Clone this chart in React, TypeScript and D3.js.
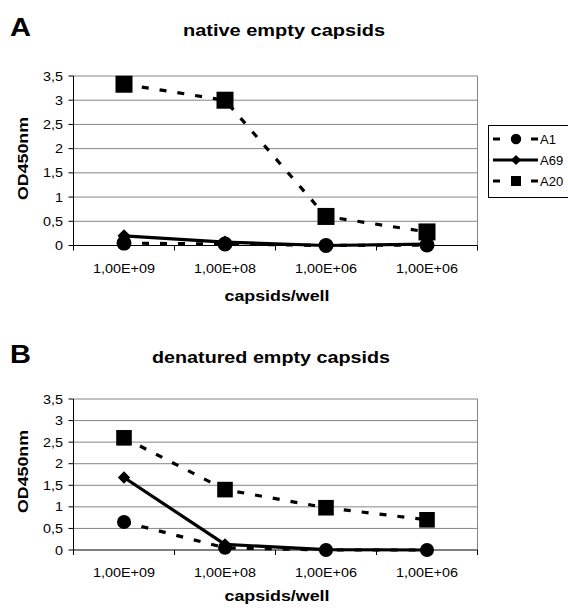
import React from "react";
import * as d3 from "d3";

const categories = ["1,00E+09", "1,00E+08", "1,00E+06", "1,00E+06"];
const yTicks = [0, 0.5, 1, 1.5, 2, 2.5, 3, 3.5];
const yTickLabels = ["0", "0,5", "1", "1,5", "2", "2,5", "3", "3,5"];
const seriesNames = ["A1", "A69", "A20"];

const nativeA1 = [0.05, 0.03, 0.0, 0.01];
const nativeA69 = [0.2, 0.07, 0.0, 0.03];
const nativeA20 = [3.33, 3.0, 0.6, 0.28];

const denatA1 = [0.65, 0.05, 0.0, 0.0];
const denatA69 = [1.68, 0.13, 0.01, 0.0];
const denatA20 = [2.6, 1.4, 0.98, 0.7];

const FONT = "'Liberation Sans', Arial, sans-serif";

type Panel = {
  letter: string;
  title: string;
  titleX: number;
  titleW: number;
  headY: number;
  top: number;
  bottom: number;
  tickDy: number;
  axisTitleDy: number;
  yTitleY: number;
  series: number[][];
  legend: boolean;
  sq: number;
  cr: number;
  dm: number;
};

const styles = [
  { dash: "7,11", marker: "circle" },
  { dash: "none", marker: "diamond" },
  { dash: "7,11", marker: "square" },
];

function Marker({ type, x, y, sq, cr, dm }: { type: string; x: number; y: number; sq: number; cr: number; dm: number }) {
  if (type === "circle") return <circle cx={x} cy={y} r={cr} fill="#000" />;
  if (type === "square") return <rect x={x - sq} y={y - sq} width={2 * sq} height={2 * sq} fill="#000" />;
  return <path d={`M${x},${y - dm}L${x + dm},${y}L${x},${y + dm}L${x - dm},${y}Z`} fill="#000" />;
}

function T(props: any) {
  const { w, children, ...rest } = props;
  return (
    <text fontFamily={FONT} textLength={w} lengthAdjust="spacingAndGlyphs" {...rest}>
      {children}
    </text>
  );
}

function ChartPanel({ p }: { p: Panel }) {
  const left = 73.5;
  const right = 477.5;
  const x = d3.scaleBand<number>().domain(d3.range(categories.length)).range([left, right]);
  const y = d3.scaleLinear().domain([0, 3.5]).range([p.bottom, p.top]);
  const cx = (i: number) => (x(i) as number) + x.bandwidth() / 2;
  const line = d3
    .line<number>()
    .x((_, i) => cx(i))
    .y((v) => y(v));
  return (
    <g>
      <T x={10} y={p.headY} fontWeight="bold" fontSize={26} w={21}>
        {p.letter}
      </T>
      <T x={p.titleX} y={p.headY} textAnchor="middle" fontWeight="bold" fontSize={17} w={p.titleW}>
        {p.title}
      </T>
      {yTicks.slice(1).map((t) => (
        <line key={t} x1={left} x2={right} y1={y(t)} y2={y(t)} stroke="#858585" strokeWidth={1} />
      ))}
      <line x1={right} x2={right} y1={p.top} y2={p.bottom} stroke="#858585" strokeWidth={1} />
      <line x1={left} x2={left} y1={p.top} y2={p.bottom} stroke="#000" strokeWidth={1} />
      <line x1={left} x2={right} y1={p.bottom} y2={p.bottom} stroke="#000" strokeWidth={1} />
      {yTicks.map((t, i) => (
        <g key={t}>
          <line x1={left - 5} x2={left} y1={y(t)} y2={y(t)} stroke="#000" />
          <T
            x={63}
            y={y(t) + 4.5}
            textAnchor="end"
            fontSize={12.5}
            w={yTickLabels[i].length === 1 ? 8 : 20}
          >
            {yTickLabels[i]}
          </T>
        </g>
      ))}
      {d3.range(categories.length + 1).map((i) => {
        const xx = i < categories.length ? (x(i) as number) : right;
        return <line key={i} x1={xx} x2={xx} y1={p.bottom} y2={p.bottom + 5} stroke="#000" />;
      })}
      {categories.map((c, i) => (
        <T key={i} x={cx(i)} y={p.bottom + p.tickDy} textAnchor="middle" fontSize={12.5} w={62}>
          {c}
        </T>
      ))}
      <T x={277} y={p.bottom + p.axisTitleDy} textAnchor="middle" fontWeight="bold" fontSize={15} w={105}>
        capsids/well
      </T>
      <T
        transform={`translate(27.5,${p.yTitleY}) rotate(-90)`}
        textAnchor="middle"
        fontWeight="bold"
        fontSize={15}
        w={83}
      >
        OD450nm
      </T>
      {p.series.map((s, k) => (
        <path
          key={k}
          d={line(s) || ""}
          fill="none"
          stroke="#000"
          strokeWidth={3.2}
          strokeDasharray={styles[k].dash}
        />
      ))}
      {p.series.map((s, k) =>
        s.map((v, i) => (
          <Marker key={`${k}-${i}`} type={styles[k].marker} x={cx(i)} y={y(v)} sq={p.sq} cr={p.cr} dm={p.dm} />
        ))
      )}
      {p.legend && (
        <g>
          <rect x={488.5} y={125.5} width={100} height={72} fill="#fff" stroke="#000" strokeWidth={1} />
          {seriesNames.map((n, k) => {
            const ly = 139 + k * 21;
            return (
              <g key={n}>
                <line
                  x1={493}
                  x2={538}
                  y1={ly}
                  y2={ly}
                  stroke="#000"
                  strokeWidth={3}
                  strokeDasharray={k === 1 ? "none" : "7,31"}
                />
                <Marker type={styles[k].marker} x={516} y={ly} sq={5} cr={5.2} dm={5} />
                <text x={540} y={ly + 4.5} fontFamily={FONT} fontSize={13}>
                  {n}
                </text>
              </g>
            );
          })}
        </g>
      )}
    </g>
  );
}

const panels: Panel[] = [
  {
    letter: "A",
    title: "native empty capsids",
    titleX: 284,
    titleW: 202,
    headY: 36,
    top: 76,
    bottom: 245.5,
    tickDy: 27.5,
    axisTitleDy: 55.5,
    yTitleY: 158.5,
    series: [nativeA1, nativeA69, nativeA20],
    legend: true,
    sq: 8.5,
    cr: 7.5,
    dm: 6.5,
  },
  {
    letter: "B",
    title: "denatured empty capsids",
    titleX: 271,
    titleW: 238,
    headY: 363,
    top: 399,
    bottom: 550,
    tickDy: 27,
    axisTitleDy: 51,
    yTitleY: 471.5,
    series: [denatA1, denatA69, denatA20],
    legend: false,
    sq: 7.8,
    cr: 7,
    dm: 6.2,
  },
];

export default function App() {
  React.useEffect(() => {
    document.body.style.margin = "0";
  }, []);
  return (
    <svg width={568} height={608} style={{ display: "block", background: "#fff" }}>
      <rect width={568} height={608} fill="#fff" />
      {panels.map((p) => (
        <ChartPanel key={p.letter} p={p} />
      ))}
    </svg>
  );
}
